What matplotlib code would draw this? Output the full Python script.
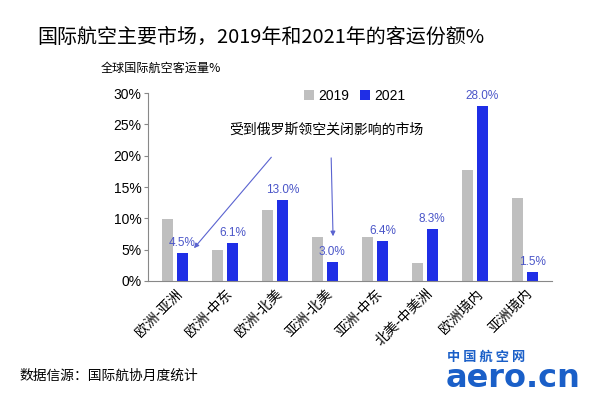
import matplotlib
matplotlib.use("Agg")
import matplotlib.pyplot as plt
import numpy as np

plt.rcParams['font.family'] = ['Noto Sans CJK SC', 'DejaVu Sans']

categories = ["欧洲-亚洲", "欧洲-中东", "欧洲-北美", "亚洲-北美", "亚洲-中东", "北美-中美洲", "欧洲境内", "亚洲境内"]
share_2019 = [9.9, 5.0, 11.3, 7.1, 7.1, 2.9, 17.8, 13.2]
share_2021 = [4.5, 6.1, 13.0, 3.0, 6.4, 8.3, 28.0, 1.5]
labels_2021 = ["4.5%", "6.1%", "13.0%", "3.0%", "6.4%", "8.3%", "28.0%", "1.5%"]
yticks = [0, 5, 10, 15, 20, 25, 30]

gray = "#bfbfbf"
blue = "#1f2ee6"
lblue = "#4a55c8"
latin = ["Liberation Sans", "DejaVu Sans"]

fig = plt.figure(figsize=(6, 3.98), dpi=100)
ax = fig.add_axes([0.247, 0.294, 0.673, 0.472])

x = np.arange(len(categories))
w = 0.22
ax.bar(x - 0.145, share_2019, width=w, color=gray, label="2019")
ax.bar(x + 0.145, share_2021, width=w, color=blue, label="2021")
for xi, v, t in zip(x, share_2021, labels_2021):
    ax.text(xi + 0.145, v + 0.6, t, ha="center", va="bottom", fontsize=8.5, color=lblue, family=latin)

ax.set_xlim(-0.54, 7.54)
ax.set_ylim(0, 30)
ax.set_yticks(yticks)
ax.set_yticklabels([f"{t}%" for t in yticks], fontsize=10, family=latin)
ax.set_xticks(x)
ax.set_xticklabels(categories, rotation=45, ha="right", rotation_mode="anchor", fontsize=10)
ax.tick_params(axis="x", length=0, pad=4)
ax.tick_params(axis="y", length=3, color="#888888", pad=2)
for s in ["top", "right"]:
    ax.spines[s].set_visible(False)
for s in ["left", "bottom"]:
    ax.spines[s].set_color("#888888")
    ax.spines[s].set_linewidth(0.8)

leg = ax.legend(loc="upper left", bbox_to_anchor=(0.355, 1.09), ncol=2, frameon=False,
                prop={"family": latin, "size": 10}, handlelength=0.7, handleheight=0.7,
                handletextpad=0.3, columnspacing=0.8)

ax.text(3.02, 24.1, "受到俄罗斯领空关闭影响的市场", ha="center", va="center", fontsize=10)
ax.annotate("", xy=(0.34, 4.9), xytext=(1.96, 20.1),
            arrowprops=dict(arrowstyle="-|>", color="#5a63d0", lw=0.8, mutation_scale=7))
ax.annotate("", xy=(3.16, 6.7), xytext=(3.12, 20.1),
            arrowprops=dict(arrowstyle="-|>", color="#5a63d0", lw=0.8, mutation_scale=7))

fig.text(0.062, 0.907, "国际航空主要市场，2019年和2021年的客运份额%", fontsize=14.4,
         fontweight="medium", va="center", ha="left")
fig.text(0.167, 0.829, "全球国际航空客运量%", fontsize=8.7, va="center", ha="left")
fig.text(0.033, 0.055, "数据信源：国际航协月度统计", fontsize=9.9, va="center", ha="left")

fig.text(0.745, 0.103, "中 国 航 空 网", fontsize=9.5, color="#1a5fc8", fontweight="bold", va="center", ha="left")
fig.text(0.742, 0.05, "aero.cn", fontsize=23, color="#1a5fc8", fontweight="bold", va="center", ha="left",
         family=["DejaVu Sans"])

fig.savefig("out.png", dpi=100)
